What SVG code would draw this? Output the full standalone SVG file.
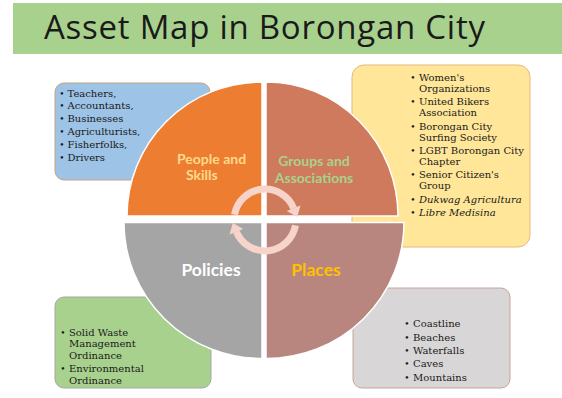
<svg xmlns="http://www.w3.org/2000/svg" width="562" height="398" viewBox="0 0 562 398">
<style>
.box{stroke-width:1}
.t{font-family:"DejaVu Serif","Liberation Serif",serif;font-size:10px;fill:#1a1a1a}
.b{font-family:"DejaVu Serif","Liberation Serif",serif;font-size:9px;fill:#1a1a1a;text-anchor:middle}
.i{font-style:italic}
.q{stroke:#ffffff;stroke-width:1.5}
.lbl{font-family:Lato,"Open Sans",sans-serif;font-weight:bold}
.arr{fill:none;stroke:#F6D4C9;stroke-width:7}
.ah{fill:#F6D4C9}
</style>
<rect width="562" height="398" fill="#ffffff"/>
<g id="title">
<rect x="13" y="3" width="549" height="51" fill="#A9D18E"/>
<text x="44" y="38.5" font-family="'Open Sans',Lato,sans-serif" font-size="33" fill="#1a1a1a" textLength="441" lengthAdjust="spacing">Asset Map in Borongan City</text>
</g>
<g id="people-box">
<rect class="box" x="55" y="83" width="155" height="97" rx="9" fill="#9DC3E6" stroke="#C9A27E"/>
<text class="b" x="62" y="96.5">•</text><text class="t" x="67.5" y="96.5">Teachers,</text>
<text class="b" x="62" y="109.4">•</text><text class="t" x="67.5" y="109.4">Accountants,</text>
<text class="b" x="62" y="122.3">•</text><text class="t" x="67.5" y="122.3">Businesses</text>
<text class="b" x="62" y="135.2">•</text><text class="t" x="67.5" y="135.2">Agriculturists,</text>
<text class="b" x="62" y="148.1">•</text><text class="t" x="67.5" y="148.1">Fisherfolks,</text>
<text class="b" x="62" y="161">•</text><text class="t" x="67.5" y="161">Drivers</text>
</g>
<g id="groups-box">
<rect class="box" x="352" y="65" width="178" height="182" rx="12" fill="#FFE699" stroke="#E6B77E"/>
<text class="b" x="413" y="80.7">•</text><text class="t" x="419" y="80.7">Women's</text>
<text class="t" x="419" y="92.3">Organizations</text>
<text class="b" x="413" y="105">•</text><text class="t" x="419" y="105">United Bikers</text>
<text class="t" x="419" y="116">Association</text>
<text class="b" x="413" y="130">•</text><text class="t" x="419" y="130">Borongan City</text>
<text class="t" x="419" y="141">Surfing Society</text>
<text class="b" x="413" y="154">•</text><text class="t" x="419" y="154">LGBT Borongan City</text>
<text class="t" x="419" y="165">Chapter</text>
<text class="b" x="413" y="178.3">•</text><text class="t" x="419" y="178.3">Senior Citizen's</text>
<text class="t" x="419" y="189.3">Group</text>
<text class="b" x="413" y="202.7">•</text><text class="t i" x="419" y="202.7">Dukwag Agricultura</text>
<text class="b" x="413" y="216">•</text><text class="t i" x="419" y="216">Libre Medisina</text>
</g>
<g id="policies-box">
<rect class="box" x="55" y="297" width="156" height="91" rx="9" fill="#A9D18E" stroke="#A6A6A6"/>
<text class="b" x="63" y="335.7">•</text><text class="t" x="69" y="335.7">Solid Waste</text>
<text class="t" x="69" y="347.3">Management</text>
<text class="t" x="69" y="359">Ordinance</text>
<text class="b" x="63" y="372.3">•</text><text class="t" x="69" y="372.3">Environmental</text>
<text class="t" x="69" y="384">Ordinance</text>
</g>
<g id="places-box">
<rect class="box" x="353" y="288" width="157" height="100" rx="9" fill="#D8D6D7" stroke="#C8A49A"/>
<text class="b" x="407" y="327.3">•</text><text class="t" x="413" y="327.3">Coastline</text>
<text class="b" x="407" y="340.7">•</text><text class="t" x="413" y="340.7">Beaches</text>
<text class="b" x="407" y="354.3">•</text><text class="t" x="413" y="354.3">Waterfalls</text>
<text class="b" x="407" y="367.3">•</text><text class="t" x="413" y="367.3">Caves</text>
<text class="b" x="407" y="380.7">•</text><text class="t" x="413" y="380.7">Mountains</text>
</g>
<g id="people-quadrant">
<path class="q" d="M262,216 L127,216 A135,134 0 0 1 262,82 Z" fill="#ED7D31"/>
<text class="lbl" x="177" y="164" font-size="14" fill="#FFD98A">People and</text>
<text class="lbl" x="186" y="180" font-size="14" fill="#FFD98A">Skills</text>
</g>
<g id="groups-quadrant">
<path class="q" d="M266,216 L266,82 A132,134 0 0 1 398,216 Z" fill="#CF7A5C"/>
<text class="lbl" x="314" y="166" font-size="14" fill="#A9D18E" text-anchor="middle">Groups and</text>
<text class="lbl" x="314" y="182.7" font-size="14" fill="#A9D18E" text-anchor="middle">Associations</text>
</g>
<g id="policies-quadrant">
<path class="q" d="M262,222.5 L124,222.5 A138,136 0 0 0 262,358.5 Z" fill="#A5A5A5"/>
<text class="lbl" x="211" y="276" font-size="17.5" fill="#ffffff" text-anchor="middle">Policies</text>
</g>
<g id="places-quadrant">
<path class="q" d="M266,222.5 L404,222.5 A138,136 0 0 1 266,358.5 Z" fill="#B8867E"/>
<text class="lbl" x="316" y="276" font-size="17.5" fill="#FFC000" text-anchor="middle">Places</text>
</g>
<g id="connectors">
<g id="arrow-top">
<path class="arr" d="M234.5,214.6 A31,31 0 0 1 293.7,208.4"/>
<polygon class="ah" points="300.5,205.5 286.8,211.1 297.2,217"/>
</g>
<g id="arrow-bottom" transform="rotate(180 265 220)">
<path class="arr" d="M234.5,214.6 A31,31 0 0 1 293.7,208.4"/>
<polygon class="ah" points="300.5,205.5 286.8,211.1 297.2,217"/>
</g>
</g>
</svg>
